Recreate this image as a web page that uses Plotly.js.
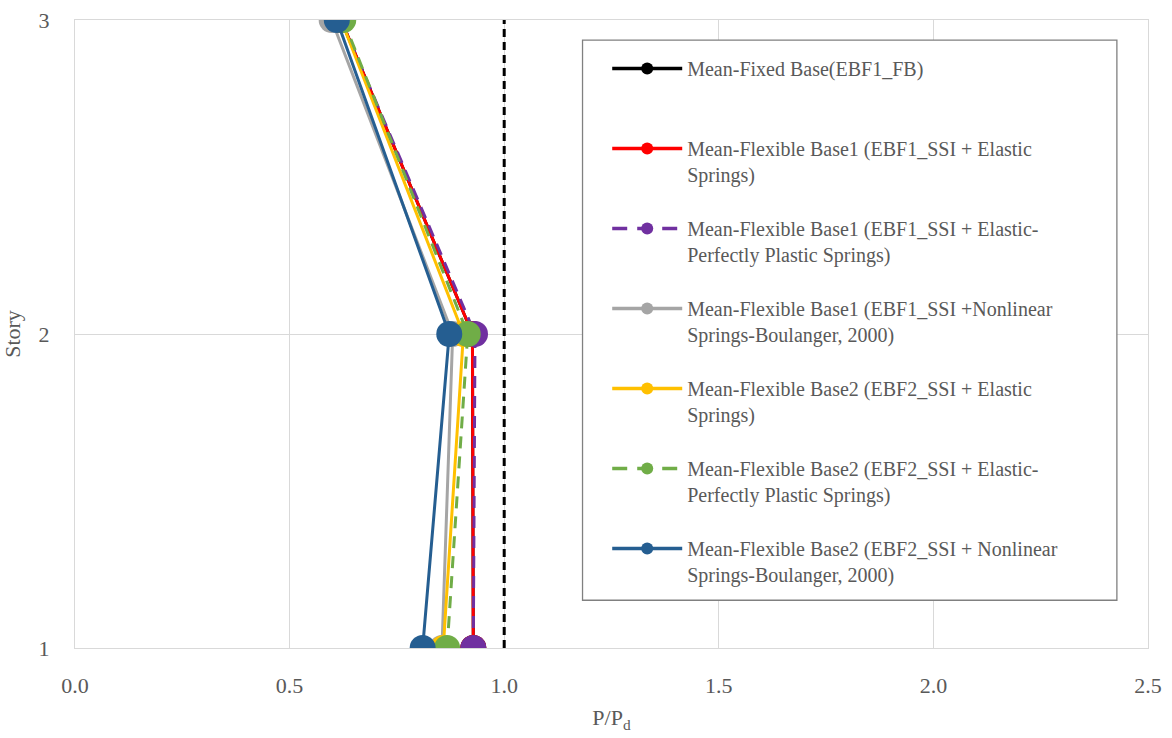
<!DOCTYPE html>
<html>
<head>
<meta charset="utf-8">
<script src="https://cdn.plot.ly/plotly-3.0.1.min.js"></script>
<style>html,body{margin:0;padding:0;background:#fff;}#chart{width:1172px;height:738px;}</style>
</head>
<body>
<div id="chart"></div>
<script>
const stories = [1, 2, 3];
const fixedBase = [0.928, 0.926, 0.620];
const flex1Elastic = [0.928, 0.926, 0.620];
const flex1EPP = [0.928, 0.932, 0.620];
const flex1Nonlinear = [0.855, 0.880, 0.598];
const flex2Elastic = [0.858, 0.905, 0.620];
const flex2EPP = [0.867, 0.915, 0.625];
const flex2Nonlinear = [0.810, 0.872, 0.610];
const seriesNames = [
  "Mean-Fixed Base(EBF1_FB)<br> ",
  "Mean-Flexible Base1 (EBF1_SSI + Elastic<br>Springs)",
  "Mean-Flexible Base1 (EBF1_SSI + Elastic-<br>Perfectly Plastic Springs)",
  "Mean-Flexible Base1 (EBF1_SSI +Nonlinear<br>Springs-Boulanger, 2000)",
  "Mean-Flexible Base2 (EBF2_SSI + Elastic<br>Springs)",
  "Mean-Flexible Base2 (EBF2_SSI + Elastic-<br>Perfectly Plastic Springs)",
  "Mean-Flexible Base2 (EBF2_SSI + Nonlinear<br>Springs-Boulanger, 2000)"
];
const xTickVals = [0, 0.5, 1.0, 1.5, 2.0, 2.5];
const yTickVals = [1, 2, 3];

const allData = [fixedBase, flex1Elastic, flex1EPP, flex1Nonlinear, flex2Elastic, flex2EPP, flex2Nonlinear];
const colors = ["#000000", "#FF0000", "#7030A0", "#A5A5A5", "#FFC000", "#70AD47", "#255E91"];
const dashes = ["solid", "solid", "12px,8px", "solid", "solid", "12px,8px", "solid"];
const legendDashes = ["solid", "solid", "15px,10px", "solid", "solid", "15px,10px", "solid"];

const traces = allData.map((vals, i) => ({
  x: vals, y: stories, type: "scatter", mode: "lines+markers",
  name: seriesNames[i], showlegend: false,
  line: {color: colors[i], width: 3, dash: dashes[i]},
  marker: {color: colors[i], size: 26}
}));
const legendTraces = allData.map((vals, i) => ({
  x: [null], y: [null], type: "scatter", mode: "lines+markers",
  name: seriesNames[i], legendgroup: "g" + i, showlegend: true,
  line: {color: colors[i], width: 3.5, dash: legendDashes[i]},
  marker: {color: colors[i], size: 12}
}));

const font = {family: "'Liberation Serif', 'Times New Roman', Times, serif", color: "#595959"};
const layout = {
  width: 1172, height: 738,
  margin: {l: 75, r: 24, t: 20, b: 90},
  paper_bgcolor: "#fff", plot_bgcolor: "#fff",
  showlegend: true,
  font: Object.assign({size: 22}, font),
  xaxis: {
    range: [0, 2.5], tickvals: xTickVals, tickformat: ".1f",
    showgrid: true, gridcolor: "#D9D9D9", gridwidth: 1, zeroline: false,
    showline: true, linecolor: "#D9D9D9", linewidth: 1, mirror: true,
    ticks: "", ticklabelstandoff: 18, tickfont: Object.assign({size: 22}, font),
    title: {text: "P/P<sub>d</sub>", font: Object.assign({size: 22}, font), standoff: 12}
  },
  yaxis: {
    range: [1, 3], tickvals: yTickVals,
    showgrid: true, gridcolor: "#D9D9D9", gridwidth: 1, zeroline: false,
    showline: true, linecolor: "#D9D9D9", linewidth: 1, mirror: true,
    ticks: "", ticklabelstandoff: 20, tickfont: Object.assign({size: 22}, font),
    title: {text: "Story", font: Object.assign({size: 22}, font), standoff: 16}
  },
  legend: {
    x: 0.496, y: 0.954, xanchor: "left", yanchor: "top",
    bgcolor: "rgba(0,0,0,0)", borderwidth: 0,
    font: Object.assign({size: 20}, font),
    tracegroupgap: 25, valign: "top", itemwidth: 70
  },
  shapes: [
    {type: "line", xref: "x", yref: "paper", x0: 1.0, x1: 1.0, y0: 0, y1: 1,
     line: {color: "#000", width: 3, dash: "8px,5px"}, layer: "above"},
    {type: "rect", xref: "paper", yref: "paper", x0: 0.473, x1: 0.971, y0: 0.076, y1: 0.968,
     line: {color: "#808080", width: 1.3}, fillcolor: "#fff", layer: "above"}
  ]
};
Plotly.newPlot("chart", traces.concat(legendTraces), layout, {displayModeBar: false, staticPlot: true});
</script>
</body>
</html>
